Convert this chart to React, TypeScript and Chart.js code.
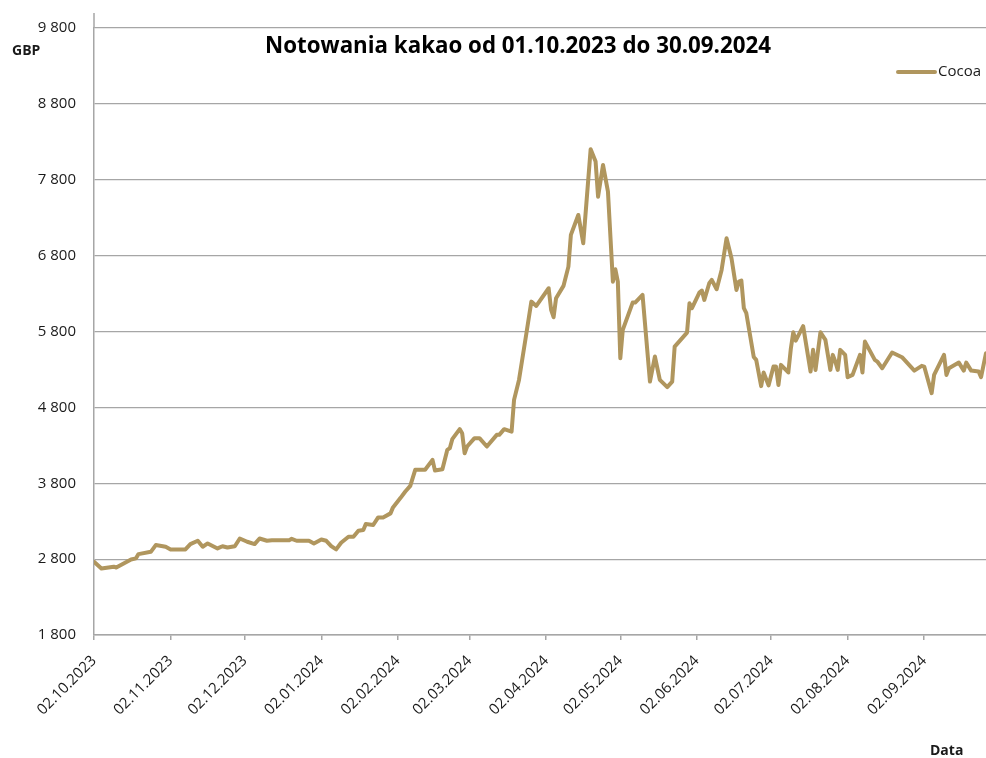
import React, { useEffect, useRef } from 'react';
import { Chart, registerables } from 'chart.js';

Chart.register(...registerables);

const chartTitle = 'Notowania kakao od 01.10.2023 do 30.09.2024';
const seriesName = 'Cocoa';
const yUnit = 'GBP';
const xTitle = 'Data';

const tickLabels = [
  '02.10.2023', '02.11.2023', '02.12.2023', '02.01.2024', '02.02.2024', '02.03.2024',
  '02.04.2024', '02.05.2024', '02.06.2024', '02.07.2024', '02.08.2024', '02.09.2024',
];

const yMin = 1800;
const yMax = 9800;
const yStep = 1000;

const dates = [
  '2023-10-02', '2023-10-05', '2023-10-10', '2023-10-11', '2023-10-17', '2023-10-19', '2023-10-20', '2023-10-25', '2023-10-27', '2023-10-31',
  '2023-11-02', '2023-11-08', '2023-11-10', '2023-11-13', '2023-11-15', '2023-11-17', '2023-11-21', '2023-11-23', '2023-11-25', '2023-11-28', '2023-11-30',
  '2023-12-03', '2023-12-06', '2023-12-08', '2023-12-11', '2023-12-13', '2023-12-20', '2023-12-21', '2023-12-23', '2023-12-28', '2023-12-30',
  '2024-01-02', '2024-01-04', '2024-01-06', '2024-01-08', '2024-01-10', '2024-01-13', '2024-01-15', '2024-01-17', '2024-01-19', '2024-01-20', '2024-01-23', '2024-01-25', '2024-01-27', '2024-01-30', '2024-01-31',
  '2024-02-03', '2024-02-05', '2024-02-07', '2024-02-09', '2024-02-13', '2024-02-16', '2024-02-17', '2024-02-20', '2024-02-22', '2024-02-23', '2024-02-24', '2024-02-27', '2024-02-28', '2024-02-29',
  '2024-03-01', '2024-03-04', '2024-03-06', '2024-03-09', '2024-03-13', '2024-03-14', '2024-03-16', '2024-03-19', '2024-03-20', '2024-03-22', '2024-03-25', '2024-03-27', '2024-03-29',
  '2024-04-03', '2024-04-04', '2024-04-05', '2024-04-06', '2024-04-09', '2024-04-11', '2024-04-12', '2024-04-15', '2024-04-17', '2024-04-20', '2024-04-22', '2024-04-23', '2024-04-25', '2024-04-27', '2024-04-29', '2024-04-30',
  '2024-05-01', '2024-05-02', '2024-05-03', '2024-05-07', '2024-05-08', '2024-05-11', '2024-05-14', '2024-05-16', '2024-05-18', '2024-05-21', '2024-05-23', '2024-05-24', '2024-05-29', '2024-05-30', '2024-05-31',
  '2024-06-03', '2024-06-04', '2024-06-05', '2024-06-07', '2024-06-08', '2024-06-10', '2024-06-12', '2024-06-14', '2024-06-16', '2024-06-18', '2024-06-19', '2024-06-20', '2024-06-21', '2024-06-22', '2024-06-25', '2024-06-26', '2024-06-28', '2024-06-29',
  '2024-07-01', '2024-07-03', '2024-07-04', '2024-07-05', '2024-07-06', '2024-07-09', '2024-07-10', '2024-07-11', '2024-07-12', '2024-07-15', '2024-07-18', '2024-07-19', '2024-07-20', '2024-07-22', '2024-07-24', '2024-07-26', '2024-07-27', '2024-07-28', '2024-07-29', '2024-07-30',
  '2024-08-01', '2024-08-02', '2024-08-04', '2024-08-07', '2024-08-08', '2024-08-09', '2024-08-13', '2024-08-14', '2024-08-16', '2024-08-20', '2024-08-24', '2024-08-29',
  '2024-09-01', '2024-09-02', '2024-09-05', '2024-09-06', '2024-09-10', '2024-09-11', '2024-09-12', '2024-09-16', '2024-09-18', '2024-09-19', '2024-09-21', '2024-09-24', '2024-09-25', '2024-09-27',
];

const cocoa = [
  2765, 2676, 2700, 2690, 2796, 2810, 2866, 2896, 2985, 2963,
  2928, 2928, 2998, 3042, 2963, 3007, 2941, 2970, 2953, 2970, 3072,
  3029, 2998, 3072, 3042, 3050, 3050, 3068, 3042, 3042, 3007,
  3059, 3042, 2972, 2928, 3016, 3095, 3095, 3174, 3183, 3262, 3250, 3350, 3350, 3403, 3482,
  3604, 3691, 3766, 3977, 3977, 4108, 3967, 3985, 4240, 4262, 4381, 4513, 4460, 4196,
  4284, 4394, 4394, 4284, 4438, 4438, 4513, 4481, 4899, 5162, 5777, 6194, 6137,
  6370, 6085, 5988, 6239, 6401, 6655, 7073, 7336, 6963, 8202, 8039, 7577, 7995, 7643, 6457, 6620,
  6457, 5448, 5821, 6181, 6181, 6282, 5140, 5470, 5162, 5066, 5140, 5601, 5786, 6172, 6107,
  6312, 6339, 6216, 6436, 6480, 6357, 6612, 7029, 6766, 6348, 6457, 6471, 6107, 6041, 5465, 5426, 5080, 5259,
  5090, 5338, 5338, 5096, 5360, 5260, 5570, 5790, 5680, 5870, 5272, 5558, 5294, 5790, 5689, 5294, 5492, 5404, 5294, 5558,
  5492, 5198, 5228, 5492, 5259, 5667, 5426, 5404, 5316, 5523, 5461, 5285,
  5347, 5338, 4987, 5228, 5492, 5228, 5316, 5390, 5285, 5390, 5285, 5272, 5198, 5514,
];

const DAY = 86400000;
const ORIGIN = Date.UTC(2023, 9, 2);
const dayOfIso = (s: string) => {
  const [y, m, d] = s.split('-').map(Number);
  return Math.round((Date.UTC(y, m - 1, d) - ORIGIN) / DAY);
};
const dayOfLabel = (s: string) => {
  const [d, m, y] = s.split('.').map(Number);
  return Math.round((Date.UTC(y, m - 1, d) - ORIGIN) / DAY);
};

const LINE_COLOR = '#b0965e';
const GRID_COLOR = '#a6a6a6';
const TEXT_COLOR = '#1a1a1a';
const FONT = '"Open Sans", "Noto Sans", sans-serif';

const fmtThousands = (v: number) => {
  const s = String(Math.round(v));
  return s.replace(/\B(?=(\d{3})+(?!\d))/g, ' ');
};

const overlayPlugin = {
  id: 'overlay',
  afterDraw(chart: any) {
    const { ctx, chartArea } = chart;
    ctx.save();
    // axis extension above top gridline
    ctx.strokeStyle = GRID_COLOR;
    ctx.lineWidth = 1.5;
    ctx.beginPath();
    ctx.moveTo(chartArea.left, 13);
    ctx.lineTo(chartArea.left, chartArea.top);
    ctx.stroke();

    ctx.fillStyle = '#000';
    ctx.textBaseline = 'middle';
    // title
    ctx.textAlign = 'center';
    ctx.font = `bold 20px ${FONT}`;
    const tw = ctx.measureText(chartTitle).width;
    const tSize = 20 * 506 / tw;
    ctx.font = `bold ${tSize.toFixed(2)}px ${FONT}`;
    ctx.fillText(chartTitle, 518, 47);

    // y unit
    ctx.textAlign = 'left';
    ctx.font = `bold 14px ${FONT}`;
    ctx.fillStyle = TEXT_COLOR;
    ctx.fillText(yUnit, 12, 51);

    // x title
    ctx.font = `bold 14px ${FONT}`;
    ctx.fillText(xTitle, 930, 751);

    // legend
    ctx.strokeStyle = LINE_COLOR;
    ctx.lineWidth = 4;
    ctx.lineCap = 'round';
    ctx.beginPath();
    ctx.moveTo(898, 72);
    ctx.lineTo(935, 72);
    ctx.stroke();
    ctx.font = `15px ${FONT}`;
    ctx.fillStyle = TEXT_COLOR;
    ctx.fillText(seriesName, 938, 72);
    ctx.restore();
  },
};

export default function App() {
  const ref = useRef<HTMLCanvasElement | null>(null);

  useEffect(() => {
    if (!ref.current) return;
    const points = dates.map((d, i) => ({ x: dayOfIso(d), y: cocoa[i] }));
    const tickDays = tickLabels.map(dayOfLabel);
    const chart = new Chart(ref.current, {
      type: 'line',
      data: {
        datasets: [
          {
            label: seriesName,
            data: points,
            borderColor: LINE_COLOR,
            backgroundColor: LINE_COLOR,
            borderWidth: 4,
            pointRadius: 0,
            tension: 0,
            borderJoinStyle: 'round',
            borderCapStyle: 'round',
          },
        ],
      },
      options: {
        animation: false,
        responsive: false,
        maintainAspectRatio: false,
        layout: { padding: { top: 28, left: 0, right: 0, bottom: 0 } },
        plugins: {
          legend: { display: false },
          tooltip: { enabled: false },
          title: { display: false },
        },
        scales: {
          x: {
            type: 'linear',
            min: 0,
            max: dayOfIso(dates[dates.length - 1]),
            afterBuildTicks: (scale: any) => {
              scale.ticks = tickDays.map((v) => ({ value: v }));
            },
            afterFit: (scale: any) => {
              scale.height = 123;
              scale.paddingLeft = 0;
              scale.paddingRight = 0;
            },
            ticks: {
              autoSkip: false,
              maxRotation: 45,
              minRotation: 45,
              padding: 12,
              color: TEXT_COLOR,
              font: { family: FONT, size: 15 },
              callback: (value: any) => {
                const idx = tickDays.indexOf(Math.round(Number(value)));
                return idx >= 0 ? tickLabels[idx] : '';
              },
            },
            grid: {
              drawOnChartArea: false,
              drawTicks: true,
              tickLength: 5,
              color: GRID_COLOR,
              lineWidth: 1.5,
            },
            border: { color: GRID_COLOR, width: 1.5 },
          },
          y: {
            type: 'linear',
            min: yMin,
            max: yMax,
            afterFit: (scale: any) => {
              scale.width = 94;
            },
            ticks: {
              stepSize: yStep,
              padding: 18,
              color: TEXT_COLOR,
              font: { family: FONT, size: 15 },
              callback: (value: any) => fmtThousands(Number(value)),
            },
            grid: {
              drawTicks: false,
              color: GRID_COLOR,
              lineWidth: 1.2,
            },
            border: { color: GRID_COLOR, width: 1.5 },
          },
        },
      },
      plugins: [overlayPlugin],
    } as any);
    return () => chart.destroy();
  }, []);

  return (
    <div style={{ position: 'absolute', left: 0, top: 0, width: 986, height: 758, background: '#fff' }}>
      <canvas ref={ref} width={986} height={758} style={{ width: 986, height: 758, display: 'block' }} />
    </div>
  );
}
